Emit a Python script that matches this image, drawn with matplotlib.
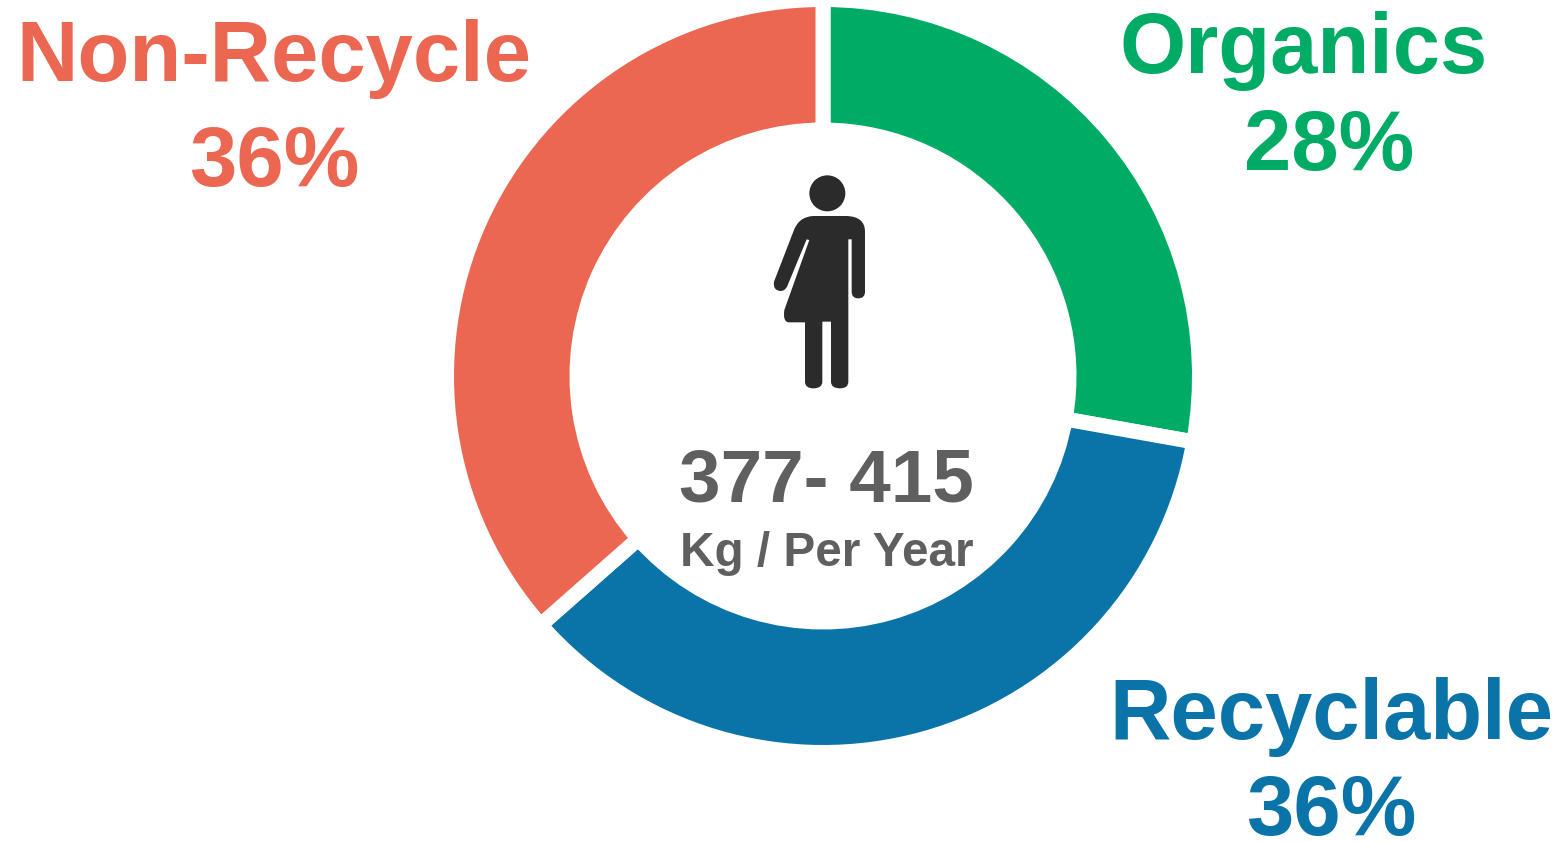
import matplotlib
matplotlib.use("Agg")
import matplotlib.pyplot as plt
from matplotlib.path import Path
from matplotlib.patches import PathPatch, Circle

categories = ["Organics", "Recyclable", "Non-Recycle"]
shares = [27.8, 35.7, 36.5]
share_labels = ["28%", "36%", "36%"]
colors = ["#00AB66", "#0A73A8", "#EB6751"]
center_value = "377- 415"
center_unit = "Kg / Per Year"

W, H = 1562, 842
plt.rcParams["font.family"] = ["Liberation Sans", "DejaVu Sans"]
fig = plt.figure(figsize=(W / 100, H / 100), dpi=100, facecolor="white")
ax = fig.add_axes([0, 0, 1, 1])


def Y(py):
    return H - py


gap = 15
r_out, r_in = 369, 253.5
ax.pie(shares, colors=colors, startangle=90, counterclock=False,
       center=(823, Y(376)), radius=r_out + gap / 2,
       wedgeprops=dict(width=r_out - r_in + gap, edgecolor="white",
                       linewidth=gap * 0.72, joinstyle="miter"))
ax.set_xlim(0, W)
ax.set_ylim(0, H)
ax.set_aspect("equal")
ax.axis("off")

# category labels
name_pos = [(1304, 73), (1331, 739), (274, 81)]
share_pos = [(1329, 170), (1331, 835), (274, 186)]
for name, lab, c, (nx, ny), (sx, sy) in zip(categories, share_labels, colors, name_pos, share_pos):
    ax.text(nx, Y(ny), name, color=c, fontsize=61.2, fontweight="bold", ha="center", va="baseline")
    ax.text(sx, Y(sy), lab, color=c, fontsize=61.2, fontweight="bold", ha="center", va="baseline")

# centre text
ax.text(826, Y(502), center_value, color="#5F5F5F", fontsize=53.7, fontweight="bold", ha="center", va="baseline")
ax.text(826.5, Y(566), center_unit, color="#5F5F5F", fontsize=34.4, fontweight="bold", ha="center", va="baseline")

# person icon (traced from zoom, offset 750,160, scale 3)
icon = "#2B2B2B"


def P(zx, zy):
    return (750 + zx / 3, Y(160 + zy / 3))


ax.add_patch(Circle(P(232, 100), 18, color=icon, lw=0))
M, L, C = Path.MOVETO, Path.LINETO, Path.CURVE3
seq = [
    (M, (190, 168)), (L, (290, 168)), (C, (345, 170)), (C, (345, 215)),
    (L, (345, 395)), (C, (345, 415)), (C, (325, 415)), (C, (305, 415)), (C, (305, 395)),
    (L, (305, 238)), (L, (295, 238)), (L, (295, 665)),
    (C, (295, 685)), (C, (270, 685)), (C, (243, 685)), (C, (243, 665)),
    (L, (243, 485)), (L, (217, 485)), (L, (217, 665)),
    (C, (217, 685)), (C, (190, 685)), (C, (165, 685)), (C, (165, 665)),
    (L, (165, 487)), (L, (115, 487)), (C, (98, 485)), (C, (103, 450)),
    (L, (178, 240)), (L, (170, 238)), (L, (112, 378)),
    (C, (105, 393)), (C, (92, 393)), (C, (68, 392)), (C, (72, 365)),
    (L, (130, 215)), (C, (145, 170)), (C, (190, 168)), (Path.CLOSEPOLY, (190, 168)),
]
ax.add_patch(PathPatch(Path([P(*p) for _, p in seq], [c for c, _ in seq]), facecolor=icon, lw=0))

fig.savefig("out.png", dpi=100, facecolor="white")
